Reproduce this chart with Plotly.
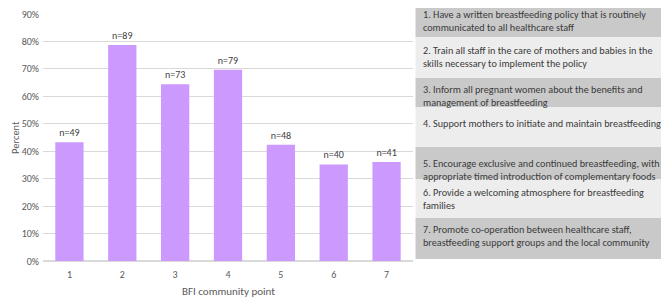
import plotly.graph_objects as go

categories = ["1", "2", "3", "4", "5", "6", "7"]
percent = [0.433, 0.787, 0.644, 0.697, 0.424, 0.352, 0.361]
n_labels = ["n=49", "n=89", "n=73", "n=79", "n=48", "n=40", "n=41"]
y_ticks = [0, 0.1, 0.2, 0.3, 0.4, 0.5, 0.6, 0.7, 0.8, 0.9]
steps = [
    "1. Have a written breastfeeding policy that is routinely<br>communicated to all healthcare staff",
    "2. Train all staff in the care of mothers and babies in the<br>skills necessary to implement the policy",
    "3. Inform all pregnant women about the benefits and<br>management of breastfeeding",
    "4. Support mothers to initiate and maintain breastfeeding",
    "5. Encourage exclusive and continued breastfeeding, with<br>appropriate timed introduction of complementary foods",
    "6. Provide a welcoming atmosphere for breastfeeding<br>families",
    "7. Promote co-operation between healthcare staff,<br>breastfeeding support groups and the local community",
]

# page body has an 8px margin: figure is drawn at (8, 8) in the window
OFF = 8
W, H = 669 - OFF, 306 - OFF
PL, PR, PT, PB = 43, 413, 14, 261  # plot area in window pixels
L, R, T, B = PL - OFF, W - (PR - OFF), PT - OFF - 1, H - (PB - OFF)
PW, PH = PR - PL, PB - (PT - 1)
FONT = "Calibri, Carlito, Lato, sans-serif"


def px(x):
    return (x - PL) / PW


def py(y):
    return (PB - y) / PH


fig = go.Figure()
fig.add_trace(go.Bar(
    x=categories, y=percent, text=n_labels, textposition="outside",
    marker=dict(color="#cc99ff", line=dict(width=0)),
    textfont=dict(size=10, color="#404040", family=FONT),
    cliponaxis=False, width=0.535,
))

box_edges = [1, 37, 78, 107, 147, 179, 218, 259]
text_tops = [7, 43, 82, 116, 156, 185, 222]
box_colors = ["#c9c9c9", "#ededed"]
shapes = []
annotations = []
for i, s in enumerate(steps):
    shapes.append(dict(type="rect", xref="paper", yref="paper",
                       x0=px(415.5), x1=px(680), y0=py(box_edges[i + 1]), y1=py(box_edges[i]),
                       fillcolor=box_colors[i % 2], line=dict(width=0), layer="below"))
    annotations.append(dict(xref="paper", yref="paper", x=px(422), y=py(text_tops[i]),
                            xanchor="left", yanchor="top", align="left", showarrow=False,
                            borderpad=0,
                            text=s, font=dict(size=10.2, color="#3a3a3a", family=FONT)))

annotations.append(dict(xref="paper", yref="paper", x=px(228), y=py(291), xanchor="center",
                        yanchor="middle", showarrow=False, text="BFI community point",
                        font=dict(size=11, color="#595959", family=FONT)))
annotations.append(dict(xref="paper", yref="paper", x=px(15), y=py(138), xanchor="center",
                        yanchor="middle", showarrow=False, text="Percent", textangle=-90,
                        font=dict(size=10.5, color="#595959", family=FONT)))

fig.update_layout(
    width=W, height=H, margin=dict(l=L, r=R, t=T, b=B),
    paper_bgcolor="white", plot_bgcolor="white",
    showlegend=False, shapes=shapes, annotations=annotations,
    font=dict(family=FONT, color="#595959", size=10),
    xaxis=dict(automargin=False, showgrid=False, showline=False, ticks="",
               ticklabelstandoff=6, tickfont=dict(size=10, color="#595959")),
    yaxis=dict(automargin=False, range=[0, 0.9 * PH / (PB - PT)], tickvals=y_ticks,
               tickformat=".0%", ticklabeloverflow="allow",
               showgrid=True, gridcolor="#d9d9d9", gridwidth=1, zeroline=True,
               ticklabelstandoff=3,
               zerolinecolor="#d9d9d9", ticks="", tickfont=dict(size=10, color="#595959")),
)

fig.write_html("out.html")
